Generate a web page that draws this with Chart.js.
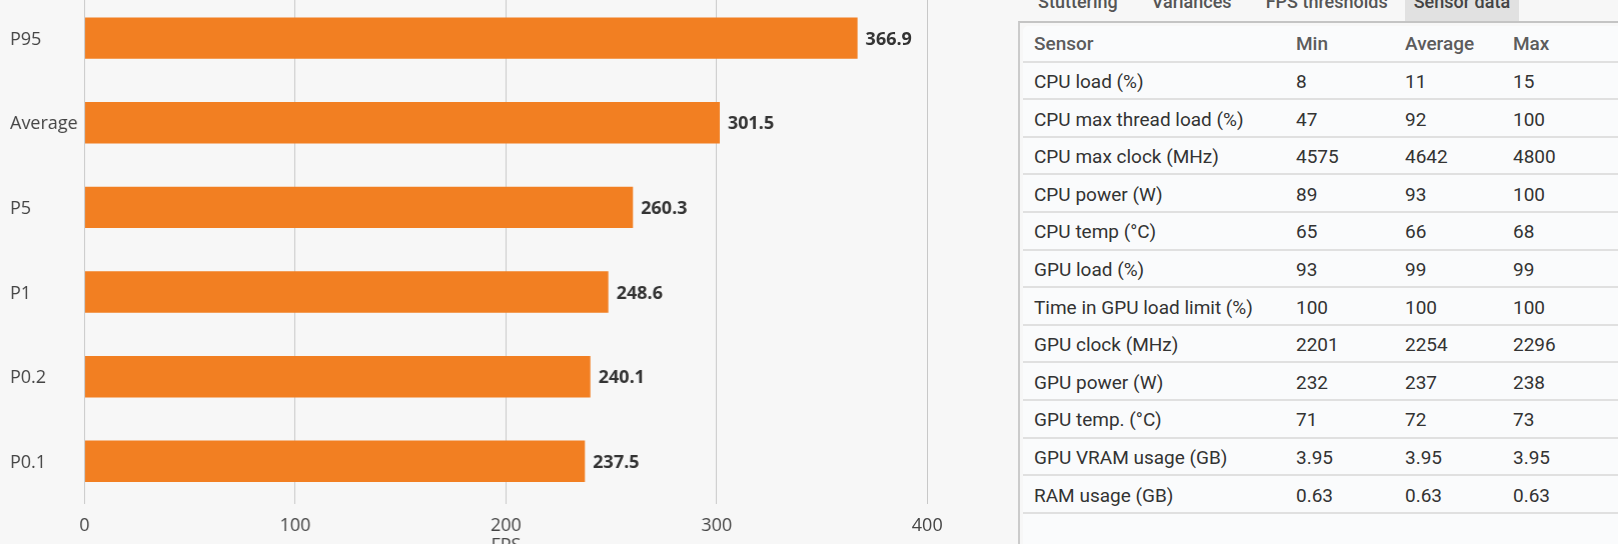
<!DOCTYPE html>
<html>
<head>
<meta charset="utf-8">
<script src="https://cdn.jsdelivr.net/npm/chart.js@4.4.1/dist/chart.umd.min.js"></script>
<style>
  html, body { margin: 0; padding: 0; width: 1618px; height: 544px; overflow: hidden; background: #f7f7f7; }
  #chartBox { position: absolute; left: 0; top: -18.1px; width: 952.7px; height: 578.5px; }
  .tabs { position: absolute; left: 1021px; top: -17px; height: 38px; display: flex; font: 500 18px Roboto; color: #555; }
  .tabs span { padding: 0 17px; line-height: 38px; white-space: nowrap; }
  .tabs span.active { background: #e1e1e1; padding: 0 9px; color: #444; }
  .panel { position: absolute; left: 1018px; top: 21px; right: -10px; bottom: -10px; border-top: 2px solid #c4c4c4; border-left: 2px solid #cbcbcb; }
  .sheet { position: absolute; left: 3px; top: 3px; right: 0; bottom: 0; background: #fafbfc; border-top-left-radius: 5px; font: 19px Roboto; color: #333; }
  .row { display: flex; height: 37.6px; box-sizing: border-box; padding-top: 2px; border-bottom: 2px solid #e0e0e0; align-items: center; }
  .row.head { height: 36.7px; padding-top: 0; color: #5c5c5c; font-weight: 500; }
  .row div { box-sizing: border-box; padding-left: 11px; white-space: nowrap; }
  .c0 { width: 262px; } .c1 { width: 109px; } .c2 { width: 108px; } .c3 { width: 120px; }
</style>
</head>
<body>
<div id="chartBox"><canvas id="fpsChart"></canvas></div>
<div class="tabs" id="tabs"></div>
<div class="panel"><div class="sheet" id="sheet"></div></div>
<script>
// FPS chart data
const categories = ['P95', 'Average', 'P5', 'P1', 'P0.2', 'P0.1'];
const fpsValues = [366.9, 301.5, 260.3, 248.6, 240.1, 237.5];
const xTicks = [0, 100, 200, 300, 400];

// Sensor table data
const tabNames = ['Stuttering', 'Variances', 'FPS thresholds', 'Sensor data'];
const sensorHeader = ['Sensor', 'Min', 'Average', 'Max'];
const sensorNames = ['CPU load (%)', 'CPU max thread load (%)', 'CPU max clock (MHz)', 'CPU power (W)', 'CPU temp (°C)',
  'GPU load (%)', 'Time in GPU load limit (%)', 'GPU clock (MHz)', 'GPU power (W)', 'GPU temp. (°C)',
  'GPU VRAM usage (GB)', 'RAM usage (GB)'];
const sensorMin = ['8', '47', '4575', '89', '65', '93', '100', '2201', '232', '71', '3.95', '0.63'];
const sensorAvg = ['11', '92', '4642', '93', '66', '99', '100', '2254', '237', '72', '3.95', '0.63'];
const sensorMax = ['15', '100', '4800', '100', '68', '99', '100', '2296', '238', '73', '3.95', '0.63'];

// tabs
const tabs = document.getElementById('tabs');
tabNames.forEach((name, i) => {
    const s = document.createElement('span');
    s.textContent = name;
    if (i === tabNames.length - 1) s.className = 'active';
    tabs.appendChild(s);
});

// table rows
const sheet = document.getElementById('sheet');
function addRow(cells, cls) {
    const row = document.createElement('div');
    row.className = cls;
    cells.forEach((txt, i) => {
        const c = document.createElement('div');
        c.className = 'c' + i;
        c.textContent = txt;
        row.appendChild(c);
    });
    sheet.appendChild(row);
}
addRow(sensorHeader, 'row head');
sensorNames.forEach((name, i) => addRow([name, sensorMin[i], sensorAvg[i], sensorMax[i]], 'row'));

// value labels at the end of each bar
const valueLabels = {
    id: 'valueLabels',
    afterDatasetsDraw(chart) {
        const ctx = chart.ctx;
        const meta = chart.getDatasetMeta(0);
        ctx.save();
        ctx.font = 'bold 18px "Open Sans"';
        ctx.fillStyle = '#333';
        ctx.textBaseline = 'middle';
        meta.data.forEach((bar, i) => {
            ctx.fillText(fpsValues[i].toFixed(1), bar.x + 8, bar.y + 1.5);
        });
        ctx.restore();
    }
};

const tickFont = { family: 'Open Sans', size: 18 };
const ctxFps = document.getElementById('fpsChart').getContext('2d');
const fpsChart = new Chart(ctxFps, {
    type: 'bar',
    data: {
        labels: categories,
        datasets: [{
            data: fpsValues,
            backgroundColor: '#f27f22',
            categoryPercentage: 1,
            barPercentage: 0.49
        }]
    },
    options: {
        indexAxis: 'y',
        responsive: true,
        maintainAspectRatio: false,
        animation: false,
        layout: { padding: { left: 10, right: 0, top: 0, bottom: 0 } },
        plugins: { legend: { display: false }, tooltip: { enabled: false } },
        scales: {
            x: {
                min: 0,
                max: 400,
                afterBuildTicks: axis => { axis.ticks = xTicks.map(v => ({ value: v })); },
                ticks: { padding: 11, color: '#444', font: tickFont },
                grid: { color: '#c8c8c8', drawTicks: false },
                border: { display: false },
                title: { display: true, text: 'FPS', color: '#444', font: tickFont, padding: { top: -12.3, bottom: 4 } }
            },
            y: {
                ticks: { crossAlign: 'far', labelOffset: 1.5, color: '#444', font: tickFont },
                grid: { display: false },
                border: { display: false },
                afterFit: axis => { axis.width = 74.5; }
            }
        }
    },
    plugins: [valueLabels]
});
</script>
</body>
</html>
